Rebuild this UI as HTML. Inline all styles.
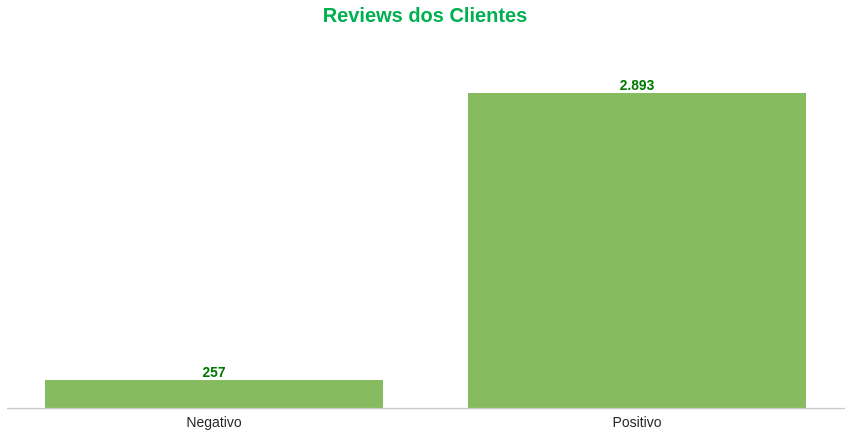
<!DOCTYPE html>
<html lang="pt">
<head>
<meta charset="utf-8">
<title>Reviews dos Clientes</title>
<style>
html,body{margin:0;padding:0;background:#fff;width:851px;height:436px;overflow:hidden}
svg{display:block;font-family:"Liberation Sans",Arial,sans-serif}
</style>
</head>
<body>
<svg id="chart" width="851" height="436" viewBox="0 0 851 436" xmlns="http://www.w3.org/2000/svg">
<text x="425" y="22" text-anchor="middle" font-size="20" font-weight="700" fill="#00b050">Reviews dos Clientes</text>
<g id="bars"></g>
<g id="labels"></g>
<line x1="7" x2="845" y1="408.6" y2="408.6" stroke="#cccccc" stroke-width="1.4"></line>
<g id="ticks"></g>
</svg>
<script>
const categories = ['Negativo', 'Positivo'];
const reviewCounts = [257, 2893];
const valueLabels = ['257', '2.893'];

const NS = 'http://www.w3.org/2000/svg';
const baseY = 408;
const yPerUnit = 315 / 2893;
const firstCenter = 214;
const bandStep = 423;
const barWidth = 338;

function xCenter(i) { return firstCenter + i * bandStep; }
function yScale(v) { return baseY - v * yPerUnit; }

const barsG = document.getElementById('bars');
const labelsG = document.getElementById('labels');
const ticksG = document.getElementById('ticks');

categories.forEach(function (cat, i) {
  const v = reviewCounts[i];
  const top = yScale(v);

  const rect = document.createElementNS(NS, 'rect');
  
  
  rect.setAttribute('x', xCenter(i) - barWidth / 2);
  rect.setAttribute('y', top);
  rect.setAttribute('width', barWidth);
  rect.setAttribute('height', baseY - top);
  rect.setAttribute('fill', '#87bb5f');
  barsG.appendChild(rect);

  const label = document.createElementNS(NS, 'text');
  
  
  label.setAttribute('transform', 'translate(' + xCenter(i) + ',' + (top - 3) + ') scale(0.92,1)');
  label.setAttribute('text-anchor', 'middle');
  label.setAttribute('font-size', '15');
  label.setAttribute('font-weight', '700');
  label.setAttribute('fill', '#007a00');
  label.textContent = valueLabels[i];
  labelsG.appendChild(label);

  const tick = document.createElementNS(NS, 'text');
  
  
  tick.setAttribute('transform', 'translate(' + xCenter(i) + ',427) scale(0.96,1)');
  tick.setAttribute('text-anchor', 'middle');
  tick.setAttribute('font-size', '14.6');
  tick.setAttribute('fill', '#262626');
  tick.textContent = cat;
  ticksG.appendChild(tick);
});
</script>
</body>
</html>
